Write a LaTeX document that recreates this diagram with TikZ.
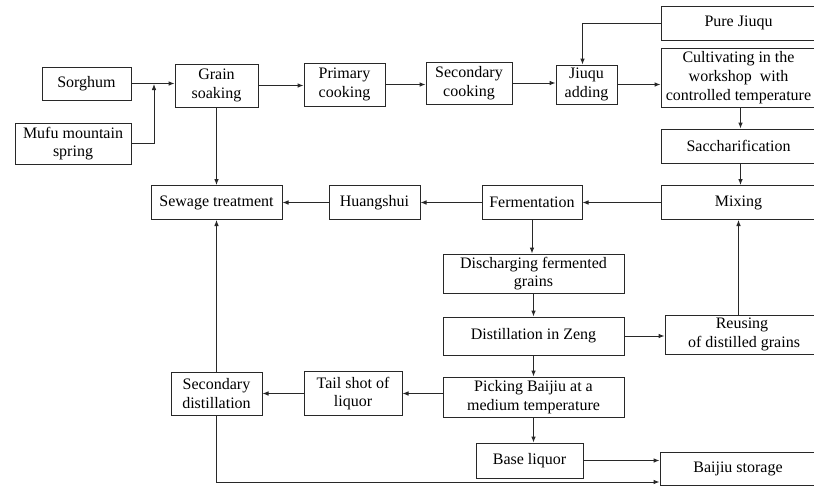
\documentclass[tikz,border=0pt]{standalone}
\usepackage{fontspec}
\setmainfont{Liberation Serif}
\usepackage{tikz}
\usetikzlibrary{arrows.meta,positioning,calc}
\definecolor{lineblack}{RGB}{40,40,40}

\begin{document}
\begin{tikzpicture}[x=0.75pt, y=-0.75pt,
    box/.style 2 args={draw=lineblack, line width=0.75pt, inner sep=0pt, align=center,
        minimum width=#1*0.75pt, minimum height=#2*0.75pt,
        font=\fontsize{12}{14}\selectfont},
    arr/.style={-{Latex[length=4.5pt,width=3.5pt]}, draw=lineblack, line width=0.75pt}]
    \useasboundingbox (0,0) rectangle (814,486);
    % raw materials and pretreatment
    \node[box={89}{33}] (sorghum) at (86.5,83.5) {Sorghum};
    \node[box={116}{41}] (mufu) at (73,143.5) {Mufu mountain\\spring};
    \node[box={83}{43}] (soak) at (216.5,85.5) {Grain\\soaking};
    \node[box={81}{43}] (primary) at (344.5,84.5) {Primary\\cooking};
    \node[box={86}{42}] (secondary) at (469,83) {Secondary\\cooking};
    \node[box={61}{39}] (jiuqu) at (586.5,84.5) {Jiuqu\\adding};
    \coordinate (join) at (154,84);
    
    % right column
    \node[box={155}{34}] (pure) at (738.5,23) {Pure Jiuqu};
    \node[box={155}{59}] (cultivate) at (738.5,77.5) {Cultivating in the\\workshop\ \ with\\controlled temperature};
    \node[box={155}{34}] (sacch) at (738.5,146) {Saccharification};
    \node[box={155}{34}] (mixing) at (738.5,202.5) {Mixing};
    \node[box={154}{39}] (reuse) at (742,334.5) {Reusing\\\ of distilled grains};
    \node[box={156}{33}] (storage) at (738,468.5) {Baijiu storage};
    
    % middle column
    \node[box={100}{34}] (ferment) at (532,202.5) {Fermentation};
    \node[box={181}{39}] (discharge) at (533.5,273.5) {Discharging fermented\\grains};
    \node[box={181}{38}] (zeng) at (533.5,336) {Distillation in Zeng};
    \node[box={181}{40}] (picking) at (533.5,397) {Picking Baijiu at a\\medium temperature};
    \node[box={107}{35}] (base) at (529.5,460.5) {Base liquor};
    
    % waste side
    \node[box={91}{34}] (huang) at (374.5,202.5) {Huangshui};
    \node[box={131}{34}] (sewage) at (216.5,202.5) {Sewage treatment};
    \node[box={98}{44}] (tail) at (353,393.5) {Tail shot of\\liquor};
    \node[box={91}{43}] (secdist) at (216.5,393.5) {Secondary\\distillation};
    
    % main line
    \draw[arr] (sorghum.east) -- (sorghum.east -| soak.west);
    \draw[arr] (mufu.east) -| (join);
    \draw[arr] (soak.east) -- (soak.east -| primary.west);
    \draw[arr] (primary.east) -- (primary.east -| secondary.west);
    \draw[arr] (secondary.east) -- (secondary.east -| jiuqu.west);
    \draw[arr] (jiuqu.east) -- (jiuqu.east -| cultivate.west);
    \draw[arr] (pure.west) -| ($(jiuqu.north)+(-4,0)$);
    \draw[arr] ($(cultivate.south)+(2,0)$) -- ($(sacch.north)+(2,0)$);
    \draw[arr] ($(sacch.south)+(2,0)$) -- ($(mixing.north)+(2,0)$);
    \draw[arr] (mixing.west) -- (ferment.east);
    \draw[arr] (ferment.south) -- (ferment.south |- discharge.north);
    \draw[arr] (discharge) -- (zeng);
    \draw[arr] (zeng) -- (picking);
    \draw[arr] (picking.south) -- (picking.south |- base.north);
    \draw[arr] (zeng.east) -- (zeng.east -| reuse.west);
    \draw[arr] (reuse.north -| mixing.south) -- (mixing.south);
    \draw[arr] (base.east) -- (base.east -| storage.west);
    
    % by-products
    \draw[arr] (ferment.west) -- (huang.east);
    \draw[arr] (huang.west) -- (sewage.east);
    \draw[arr] (soak.south) -- (sewage.north);
    \draw[arr] (secdist.north) -- (sewage.south);
    \draw[arr] (picking.west |- tail.east) -- (tail.east);
    \draw[arr] (tail.west) -- (secdist.east);
    \draw[arr] (secdist.south) |- ($(storage.south west)+(0,-3.5)$);
\end{tikzpicture}
\end{document}
